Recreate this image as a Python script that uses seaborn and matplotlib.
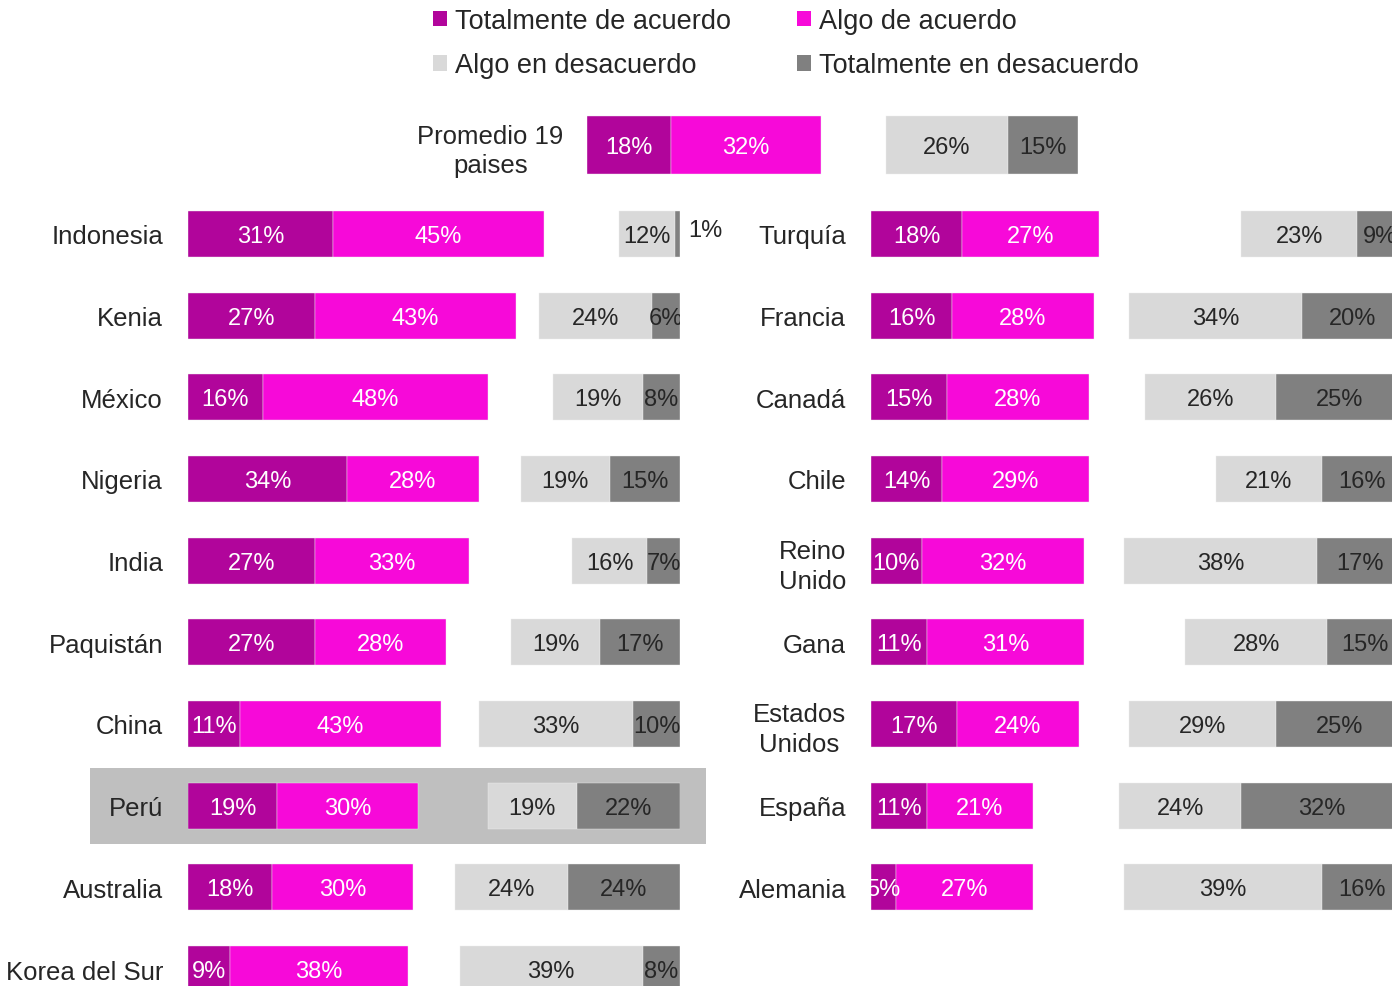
import matplotlib
matplotlib.use("Agg")
import matplotlib.pyplot as plt
from matplotlib.patches import Patch, Rectangle
import seaborn as sns

sns.set_style("white")
plt.rcParams["font.family"] = ["Liberation Sans", "DejaVu Sans"]

# ---------------- data ----------------
legend_labels = ["Totalmente de acuerdo", "Algo de acuerdo",
                 "Algo en desacuerdo", "Totalmente en desacuerdo"]

avg_label = ["Promedio 19\npaises"]
avg_total_agree = [18]
avg_some_agree = [32]
avg_some_disagree = [26]
avg_total_disagree = [15]

left_countries = ["Indonesia", "Kenia", "México", "Nigeria", "India",
                  "Paquistán", "China", "Perú", "Australia", "Korea del Sur"]
left_total_agree = [31, 27, 16, 34, 27, 27, 11, 19, 18, 9]
left_some_agree = [45, 43, 48, 28, 33, 28, 43, 30, 30, 38]
left_some_disagree = [12, 24, 19, 19, 16, 19, 33, 19, 24, 39]
left_total_disagree = [1, 6, 8, 15, 7, 17, 10, 22, 24, 8]

right_countries = ["Turquía", "Francia", "Canadá", "Chile", "Reino\nUnido",
                   "Gana", "Estados\nUnidos", "España", "Alemania"]
right_total_agree = [18, 16, 15, 14, 10, 11, 17, 11, 5]
right_some_agree = [27, 28, 28, 29, 32, 31, 24, 21, 27]
right_some_disagree = [23, 34, 26, 21, 38, 28, 29, 24, 39]
right_total_disagree = [9, 20, 25, 16, 17, 15, 25, 32, 16]

highlight_country = "Perú"

# ---------------- style ----------------
C_TOTAL_AGREE = "#B1059B"
C_SOME_AGREE = "#F709D9"
C_SOME_DIS = "#D9D9D9"
C_TOTAL_DIS = "#808080"
TEXT = "#262626"
VALUE_SIZE = 17
X_END = 105  # disagree bars are right-aligned at this position

W, H = 1392, 987
fig = plt.figure(figsize=(W / 100, H / 100), dpi=100)


def px_axes(x0, x1, ytop, ybot):
    ax = fig.add_axes([x0 / W, 1 - ybot / H, (x1 - x0) / W, (ybot - ytop) / H])
    ax.set_facecolor("none")
    return ax


def segment(ax, cats, widths, lefts, color, bar_w, text_color):
    sns.barplot(x=widths, y=cats, order=cats, orient="y", color=color,
                saturation=1, width=bar_w, left=lefts, linewidth=0.3,
                edgecolor="#eeeeee", ax=ax)
    cont = ax.containers[-1]
    for rect, v in zip(cont.patches, widths):
        xc = rect.get_x() + rect.get_width() / 2
        yc = rect.get_y() + rect.get_height() / 2
        if v >= 3:
            ax.annotate(f"{v}%", xy=(xc, yc), xytext=(0, -1.5),
                        textcoords="offset points", ha="center", va="center",
                        color=text_color, fontsize=VALUE_SIZE, clip_on=True)
        else:
            # too thin for an inside label: put it just past the bar end
            ax.annotate(f"{v}%", xy=(rect.get_x() + rect.get_width(), yc),
                        xytext=(6, 3), textcoords="offset points",
                        ha="left", va="center", color=TEXT,
                        fontsize=VALUE_SIZE)


def panel(ax, cats, ta, sa, sd, td, bar_w, n_rows, pad):
    segment(ax, cats, ta, [0] * len(ta), C_TOTAL_AGREE, bar_w, "white")
    segment(ax, cats, sa, list(ta), C_SOME_AGREE, bar_w, "white")
    dis_left = [X_END - a - b for a, b in zip(sd, td)]
    segment(ax, cats, sd, dis_left, C_SOME_DIS, bar_w, TEXT)
    segment(ax, cats, td, [X_END - b for b in td], C_TOTAL_DIS, bar_w, TEXT)
    ax.set_xlim(0, X_END)
    ax.set_ylim(n_rows - 0.5, -0.5)
    ax.set_xlabel("")
    ax.set_ylabel("")
    ax.set_xticks([])
    ax.set_yticks(range(len(cats)))
    ax.set_yticklabels(cats, fontsize=18.5, color=TEXT)
    for t in ax.get_yticklabels():
        t.set_multialignment("center")
        t.set_linespacing(1.3)
    ax.tick_params(axis="y", length=0, pad=pad)
    sns.despine(ax=ax, left=True, bottom=True)


row = (970 - 235) / 9

ax_avg = px_axes(587, 1078, 146 - row / 2, 146 + row / 2)
panel(ax_avg, avg_label, avg_total_agree, avg_some_agree, avg_some_disagree,
      avg_total_disagree, 58 / row, 1, 17)

ax_left = px_axes(188, 680, 235 - row / 2, 970 + row / 2)
panel(ax_left, left_countries, left_total_agree, left_some_agree,
      left_some_disagree, left_total_disagree, 46 / row, 10, 18)

ax_right = px_axes(871, 1403, 235 - row / 2, 970 + row / 2)
panel(ax_right, right_countries, right_total_agree, right_some_agree,
      right_some_disagree, right_total_disagree, 46 / row, 10, 18)

# highlighted row band behind the axes
hi = left_countries.index(highlight_country)
yc = 235 + hi * row
fig.add_artist(Rectangle((90 / W, 1 - (yc + 38) / H), (706 - 90) / W, 76 / H,
                         transform=fig.transFigure, facecolor="#BFBFBF",
                         edgecolor="none", zorder=-1))

handles = [Patch(facecolor=c, edgecolor="none")
           for c in (C_TOTAL_AGREE, C_SOME_DIS, C_SOME_AGREE, C_TOTAL_DIS)]
labels = [legend_labels[0], legend_labels[2], legend_labels[1], legend_labels[3]]
fig.legend(handles, labels, loc="upper left", bbox_to_anchor=(433 / W, 1 - 9 / H),
           ncol=2, frameon=False, fontsize=19.5, labelcolor=TEXT,
           handlelength=0.5, handleheight=0.5, handletextpad=0.3,
           columnspacing=2.45, labelspacing=0.68, borderpad=0, borderaxespad=0)

fig.savefig("out.png", dpi=100)
